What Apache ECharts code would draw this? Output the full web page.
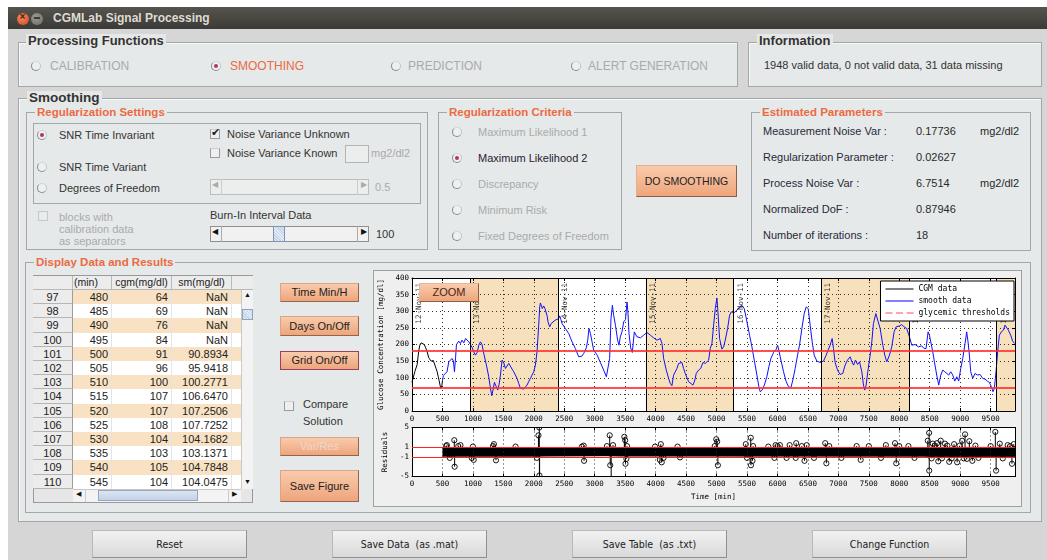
<!DOCTYPE html>
<html>
<head>
<meta charset="utf-8">
<title>CGMLab Signal Processing</title>
<script src="https://cdn.jsdelivr.net/npm/echarts@6/dist/echarts.min.js"></script>
<style>
html,body{margin:0;padding:0;background:#fff;width:1047px;height:560px;overflow:hidden;
  font-family:"Liberation Sans",Arial,sans-serif;font-size:11px;color:#333}
.abs{position:absolute;box-sizing:border-box}
.txt{position:absolute;white-space:nowrap;line-height:14px;height:14px}
.panel{position:absolute;box-sizing:border-box;border:1px solid #a3a7a7;
  box-shadow:inset 1px 1px 0 #f7f9f9;background:#e5e9e9}
.ptitle{position:absolute;font-weight:bold;white-space:nowrap;line-height:14px;padding:0 2px}
.orange{color:#ec6a42}
.grey{color:#a9abab}
.radio{position:absolute;width:10px;height:10px;border-radius:50%;box-sizing:border-box;
  border:1px solid #8a8a8a;border-top-color:#d4d4d4;border-right-color:#c4c4c4;background:#edf0f0}
.radio.on::after{content:"";position:absolute;left:2px;top:2px;width:4px;height:4px;border-radius:50%;background:#b2365c}
.check{position:absolute;width:10px;height:10px;box-sizing:border-box;border:1px solid #9b9b9b;
  border-top-color:#d0d0d0;background:#eef0f0}
.btn{position:absolute;box-sizing:border-box;border:1px solid #d8a686;border-right-color:#93654d;
  border-bottom-color:#93654d;background:linear-gradient(#f9cbac,#eea57c);text-align:center;color:#222;
  white-space:nowrap;font-size:11px}
.gbtn{position:absolute;box-sizing:border-box;border:1px solid #b9b9b9;border-right-color:#8f8f8f;
  border-bottom-color:#8f8f8f;background:linear-gradient(#f2f2f2,#d9d9d9);text-align:center;color:#222;
  white-space:nowrap;font-family:"DejaVu Sans Condensed","DejaVu Sans",sans-serif;font-size:10.5px;line-height:27px}
#fig{position:absolute;left:374px;top:271px;width:647px;height:235px}
</style>
</head>
<body>
<div id="ui"></div>
<script>
// ---- Table contents (Display Data and Results) ----
const tableIdx = [97, 98, 99, 100, 101, 102, 103, 104, 105, 106, 107, 108, 109, 110];
const tableMin = [480, 485, 490, 495, 500, 505, 510, 515, 520, 525, 530, 535, 540, 545];
const tableCgm = [64, 69, 76, 84, 91, 96, 100, 107, 107, 108, 104, 103, 105, 104];
const tableSm  = [null, null, null, null, 90.8934, 95.9418, 100.2771, 106.6470, 107.2506,
                  107.7252, 104.1682, 103.1371, 104.7848, 104.0475];

// ---- CGM readings before the burn-in interval ends [min, mg/dl] ----
const cgmEarly = [[0,86],[14,90],[46,118],[85,140],[110,180],[128,198],[150,205],[175,206],
  [200,200],[221,192],[249,178],[275,160],[293,156],[315,150],[331,155],[350,152],[369,148],
  [395,128],[413,118],[430,104],[445,92],[460,78],[472,68]];

// ---- Smoothed profile after burn-in [min, mg/dl] ----
const smoothLate = [[575,118],[604,148],[631,153],[659,158],[680,150],[697,118],[715,160],
  [730,200],[768,210],[795,203],[820,213],[850,205],[880,218],[905,212],[932,208],[960,200],
  [990,190],[1014,178],[1042,168],[1070,176],[1097,198],[1124,208],[1150,200],[1178,173],
  [1222,138],[1260,103],[1288,68],[1310,46],[1330,63],[1353,86],[1380,80],[1408,63],[1430,80],
  [1452,108],[1479,153],[1505,146],[1534,128],[1560,133],[1589,143],[1615,140],[1643,126],
  [1670,118],[1698,113],[1725,98],[1752,83],[1780,68],[1810,65],[1835,66],[1860,72],[1889,78],
  [1915,88],[1944,98],[1970,108],[1999,118],[2026,138],[2053,178],[2080,258],[2097,313],
  [2108,325],[2119,323],[2140,308],[2162,316],[2184,308],[2206,303],[2220,285],[2233,268],
  [2261,253],[2285,263],[2316,268],[2350,273],[2380,270],[2409,278],[2425,286],[2445,275],
  [2464,263],[2518,248],[2573,233],[2628,208],[2682,188],[2737,163],[2760,160],[2790,165],
  [2819,173],[2863,190],[2885,213],[2906,248],[2930,233],[2956,208],[2983,183],[3040,168],
  [3092,146],[3147,123],[3191,103],[3215,108],[3245,158],[3267,278],[3290,318],[3311,288],
  [3340,258],[3376,213],[3398,198],[3420,223],[3448,238],[3475,268],[3505,275],[3530,328],
  [3545,298],[3563,233],[3590,190],[3617,176],[3650,238],[3694,223],[3750,220],[3803,228],
  [3858,236],[3913,228],[3968,220],[4022,213],[4077,218],[4104,203],[4131,158],[4175,123],
  [4213,98],[4240,83],[4267,76],[4295,108],[4322,103],[4350,128],[4377,143],[4405,138],
  [4432,146],[4459,128],[4486,113],[4514,108],[4541,88],[4570,83],[4613,78],[4640,90],
  [4667,113],[4705,123],[4740,128],[4777,146],[4800,150],[4815,143],[4845,138],[4870,153],
  [4897,188],[4924,203],[4952,258],[4979,308],[5006,340],[5023,298],[5050,218],[5088,186],
  [5116,193],[5143,213],[5181,248],[5214,288],[5242,298],[5290,296],[5334,303],[5378,313],
  [5416,318],[5455,308],[5499,268],[5542,228],[5581,193],[5619,153],[5663,108],[5695,73],
  [5717,58],[5750,63],[5785,78],[5826,103],[5859,133],[5892,158],[5936,176],[5980,186],
  [6002,198],[6023,183],[6045,163],[6100,118],[6144,88],[6182,73],[6220,70],[6253,93],
  [6291,128],[6330,168],[6362,198],[6401,248],[6439,293],[6472,313],[6505,308],[6537,258],
  [6570,208],[6603,168],[6647,150],[6701,146],[6756,150],[6800,168],[6838,186],[6865,198],
  [6898,218],[6920,188],[6947,146],[6986,123],[7030,110],[7073,113],[7111,138],[7150,153],
  [7194,163],[7221,148],[7250,138],[7281,153],[7315,140],[7347,148],[7385,118],[7412,78],
  [7434,63],[7456,78],[7483,118],[7522,168],[7549,208],[7576,263],[7615,293],[7647,288],
  [7686,248],[7730,198],[7762,168],[7795,148],[7839,168],[7877,193],[7915,238],[7948,253],
  [8003,256],[8041,260],[8079,253],[8123,248],[8167,223],[8205,198],[8260,200],[8315,193],
  [8369,196],[8407,188],[8440,188],[8473,238],[8495,228],[8517,233],[8550,178],[8577,148],
  [8615,108],[8648,78],[8681,108],[8714,123],[8747,118],[8779,123],[8812,108],[8845,118],
  [8878,108],[8911,90],[8944,103],[8976,90],[9009,128],[9042,158],[9080,203],[9107,238],
  [9129,208],[9151,168],[9173,118],[9206,98],[9244,113],[9282,108],[9326,110],[9370,98],
  [9408,96],[9446,90],[9479,86],[9512,73],[9539,58],[9561,68],[9588,118],[9616,178],
  [9643,228],[9676,238],[9709,243],[9736,258],[9763,260],[9791,243],[9829,228],[9862,210],
  [9895,203]];

// ---- Days, thresholds ----
const dayNames  = ['12-Nov-11','13-Nov-11','14-Nov-11','15-Nov-11','16-Nov-11','17-Nov-11','18-Nov-11','19-Nov-11'];
const dayStarts = [-480, 960, 2400, 3840, 5280, 6720, 8160, 9600];
const timeEnd = 9900;
const glycemicThresholds = [70, 180];

// ---- Residuals: dense core envelope and isolated stems ----
const residBandTimes = [500, 2000, 2200, 3200, 3400, 8400, 8500, 9900];
const residBandHi    = [0.9, 0.9, 0.85, 0.8, 0.85, 0.9, 0.95, 0.95];
const residBandLo    = [-0.9, -0.9, -0.85, -0.8, -0.85, -0.9, -0.95, -0.95];
const residStems = [[560,1.2],[573,1.4],[620,-1.2],[694,2.4],[700,-3.0],[760,1.2],[796,1.4],
  [980,-1.2],[1000,1.1],[1013,-1.6],[1330,1.2],[1345,1.6],[1379,-1.7],[1700,1.1],[2050,-1.2],
  [2076,3.4],[2090,5.0],[2092,-4.8],[2095,-6.5],[2790,1.1],[2818,1.3],[2825,-1.8],[3200,1.2],
  [3246,3.4],[3255,-2.7],[3270,-6.5],[3300,1.4],[3486,3.1],[3500,2.4],[3505,-2.4],[3520,-1.4],
  [3530,1.2],[3990,1.1],[4070,-1.6],[4085,1.6],[4100,-2.1],[4130,-1.2],[4360,1.1],[4400,-1.1],
  [4970,1.2],[4995,2.6],[5010,2.1],[5022,-2.7],[5480,1.6],[5500,-1.2],[5562,2.9],[5565,-2.7],
  [5590,-1.8],[5600,1.2],[5850,1.1],[5950,-1.2],[5970,1.4],[6000,1.2],[6040,1.4],[6150,-1.2],
  [6200,1.4],[6300,-1.2],[6308,1.8],[6400,1.2],[6444,-1.8],[6480,1.4],[6600,-1.2],[6784,1.8],
  [6803,-2.3],[6850,1.2],[7050,-1.2],[7300,1.2],[7366,-1.6],[7500,1.2],[7700,-1.2],[7780,1.4],
  [7930,1.8],[7950,-2.3],[8000,1.2],[8150,1.2],[8250,-1.2],[8468,2.3],[8490,3.9],[8492,-3.8],
  [8530,-1.3],[8550,1.7],[8580,1.3],[8620,1.8],[8640,-1.9],[8680,2.3],[8700,-1.3],[8750,1.7],
  [8790,1.3],[8820,-2.0],[8860,-1.3],[8900,1.6],[8950,-2.1],[8990,1.3],[9031,2.3],[9060,-1.3],
  [9080,3.6],[9110,-1.4],[9150,2.2],[9200,-1.8],[9250,1.3],[9300,-1.2],[9500,1.2],[9577,4.1],
  [9590,-3.8],[9650,1.7],[9700,-1.3],[9780,1.4],[9820,1.2],[9850,-2.4],[9880,1.6]];
const residLimits = [-1, 1];

// ---------------- GUI ----------------
const ui = document.getElementById('ui');
function add(cls, x, y, w, h, html, css) {
  const d = document.createElement('div');
  d.className = cls;
  d.style.left = x + 'px'; d.style.top = y + 'px';
  if (w != null) d.style.width = w + 'px';
  if (h != null) d.style.height = h + 'px';
  if (html != null) d.innerHTML = html;
  if (css) d.style.cssText += css;
  ui.appendChild(d);
  return d;
}
function text(x, cy, s, cls, css) { return add('txt ' + (cls || ''), x, cy - 7, null, null, s, css); }
function radio(cx, cy, on) { return add('radio' + (on ? ' on' : ''), cx - 5, cy - 5); }
function check(x, cy, on, css) {
  const c = add('check', x, cy - 5, null, null, null, css);
  if (on) c.innerHTML = '<span style="position:absolute;left:0;top:-4px;font-size:11px;color:#222">&#10004;</span>';
  return c;
}
function title(x, cy, s, cls, bg, size) {
  return add('ptitle ' + (cls || ''), x, cy - 7, null, null, s,
    'background:' + bg + ';font-size:' + (size || 11) + 'px');
}

// window frame and title bar
add('abs', 8, 7, 1039, 553, null, 'background:#d6d6d6');
add('abs', 8, 7, 1039, 22, null, 'background:linear-gradient(#55544f,#3b3a36)');
add('abs', 16.5, 12.5, 12, 12, '<span style="position:absolute;left:3px;top:-2px;font-size:10px;font-weight:bold;color:#3a2a20">&#215;</span>',
  'border-radius:50%;background:radial-gradient(circle at 40% 35%,#f58a5c,#d2461b)');
add('abs', 30.5, 12.5, 12, 12, '<span style="position:absolute;left:3px;top:4px;width:6px;height:2px;background:#3c3b37"></span>',
  'border-radius:50%;background:radial-gradient(circle at 40% 35%,#9a9994,#6d6c68)');
text(53, 18, 'CGMLab Signal Processing', '', 'color:#dfdbd2;font-weight:bold;font-size:12px');

// Processing Functions
add('panel', 18, 42, 720, 45);
title(26, 41, 'Processing Functions', '', '#e6e8e8', 13);
radio(35.5, 66, false); text(50, 66, 'CALIBRATION', 'grey', 'font-size:12px');
radio(215.5, 66, true); text(230, 66, 'SMOOTHING', 'orange', 'font-size:12px');
radio(395.5, 66, false); text(408, 66, 'PREDICTION', 'grey', 'font-size:12px');
radio(575.5, 66, false); text(588, 66, 'ALERT GENERATION', 'grey', 'font-size:12px');

// Information
add('panel', 748, 42, 294, 45);
title(757, 41, 'Information', '', '#e6e8e8', 13);
text(764, 65, '1948 valid data, 0 not valid data, 31 data missing', '', 'color:#333');

// Smoothing
add('panel', 18, 98, 1024, 424);
title(27, 98, 'Smoothing', '', '#e6e8e8', 13.5);

// Regularization Settings
add('panel', 26, 112, 402, 138, null, 'box-shadow:none');
title(35, 112, 'Regularization Settings', 'orange', '#e5e9e9', 11.5);
add('panel', 33, 123, 388, 81, null, 'box-shadow:none');
radio(41.5, 135, true);  text(59, 135, 'SNR Time Invariant');
radio(41.5, 167, false); text(59, 167, 'SNR Time Variant');
radio(41.5, 188, false); text(59, 188, 'Degrees of Freedom');
check(210, 134, true);   text(227, 134, 'Noise Variance Unknown');
check(210, 153, false);  text(227, 153, 'Noise Variance Known');
add('abs', 345, 145, 24, 18, null, 'background:#eceeee;border:1px solid #b5b5b5');
text(371, 153, 'mg2/dl2', 'grey');
// disabled slider
add('abs', 210, 179, 159, 16, null, 'background:#eceeee;border:1px solid #bdbdbd');
add('abs', 210, 179, 12, 16, '<span style="position:absolute;left:2px;top:1px;font-size:8px;color:#aaa">&#9664;</span>', 'border-right:1px solid #ccc');
add('abs', 357, 179, 12, 16, '<span style="position:absolute;left:3px;top:1px;font-size:8px;color:#aaa">&#9654;</span>', 'border-left:1px solid #ccc');
text(375, 187, '0.5', 'grey');
check(38, 216, false, 'border-color:#c8c8c8;background:#e8ecec');
text(59, 217, 'blocks with', 'grey');
text(59, 229, 'calibration data', 'grey');
text(59, 241, 'as separators', 'grey');
text(210, 215, 'Burn-In Interval Data');
// burn-in slider
add('abs', 210, 226, 159, 16, null, 'background:#f1f1f1;border:1px solid #8f8f8f');
add('abs', 210, 226, 12, 16, '<span style="position:absolute;left:2px;top:1px;font-size:8px;color:#111">&#9664;</span>', 'border-right:1px solid #aaa');
add('abs', 357, 226, 12, 16, '<span style="position:absolute;left:3px;top:1px;font-size:8px;color:#111">&#9654;</span>', 'border-left:1px solid #aaa');
add('abs', 273, 226, 12, 16, null, 'background:repeating-linear-gradient(45deg,#c5d3e6 0 1px,#e4ecf6 1px 2px);border:1px solid #7f95b5');
text(376, 234, '100');

// Regularization Criteria
add('panel', 438, 112, 184, 138, null, 'box-shadow:none');
title(447, 112, 'Regularization Criteria', 'orange', '#e5e9e9', 11.5);
const critNames = ['Maximum Likelihood 1', 'Maximum Likelihood 2', 'Discrepancy', 'Minimum Risk', 'Fixed Degrees of Freedom'];
const critY = [131.5, 158, 183.5, 209.5, 236];
critNames.forEach((n, i) => {
  radio(457, critY[i], i === 1);
  text(478, critY[i], n, i === 1 ? '' : 'grey', i === 1 ? 'color:#2a2030' : '');
});
add('btn', 636, 165, 101, 32, 'DO SMOOTHING', 'line-height:30px;font-size:10.5px;border-color:#e0b090 #8d5f45 #8d5f45 #e0b090');

// Estimated Parameters
add('panel', 751, 112, 280, 139, null, 'box-shadow:none');
title(760, 112, 'Estimated Parameters', 'orange', '#e5e9e9', 11.5);
const paramNames = ['Measurement Noise Var :', 'Regularization Parameter :', 'Process Noise Var :', 'Normalized DoF :', 'Number of iterations :'];
const paramValues = ['0.17736', '0.02627', '6.7514', '0.87946', '18'];
const paramUnits = ['mg2/dl2', '', 'mg2/dl2', '', ''];
const paramY = [130.5, 156.5, 182.5, 208.5, 235];
paramNames.forEach((n, i) => {
  text(763, paramY[i], n, '', 'color:#2a2a3a');
  text(916, paramY[i], paramValues[i], '', 'color:#2a2a2a');
  if (paramUnits[i]) text(980, paramY[i], paramUnits[i], '', 'color:#2a2a2a');
});

// Display Data and Results
add('panel', 25, 262, 1006, 251, null, 'box-shadow:none');
title(34, 262, 'Display Data and Results', 'orange', '#e5e9e9', 11.5);

// table
add('abs', 33, 275, 220, 228, null, 'background:#e6e6e6;border:1px solid #9a9a9a');
const colX = [33, 73, 112, 172, 232];
const headers = ['', '(min)', 'cgm(mg/dl)', 'sm(mg/dl)'];
for (let c = 0; c < 4; c++) {
  add('abs', colX[c], 276, colX[c + 1] - colX[c], 14, headers[c],
    'background:#ececec;border-right:1px solid #b8b8b8;border-bottom:1px solid #b8b8b8;line-height:13px;font-size:10.5px;color:#222;' +
    (c === 1 ? 'text-align:left;padding-left:1px' : 'text-align:center'));
}
add('abs', 232, 276, 21, 14, null, 'background:#ececec;border-bottom:1px solid #b8b8b8');
const rowH = 14.2;
tableIdx.forEach((idx, r) => {
  const y = 290 + r * rowH;
  const bg = r % 2 === 0 ? '#f9e2c3' : '#ffffff';
  add('abs', 33, y, 40, rowH, String(idx),
    'background:#ececec;border-right:1px solid #9d9d9d;border-bottom:1px solid #b5b5b5;text-align:center;line-height:14px;color:#222');
  add('abs', 73, y, 168, rowH, null, 'background:' + bg);
  const sm = tableSm[r] == null ? 'NaN' : tableSm[r].toFixed(4);
  const vals = [String(tableMin[r]), String(tableCgm[r]), sm];
  for (let c = 1; c < 4; c++) {
    add('abs', colX[c], y, colX[c + 1] - colX[c], rowH, vals[c - 1],
      'text-align:right;padding-right:3px;line-height:14px;color:#222;border-right:1px solid #e4e4e4');
  }
});
// vertical scrollbar
add('abs', 241, 290, 12, 199, null, 'background:#f3f3f3;border-left:1px solid #c8c8c8');
add('abs', 242, 291, 11, 11, '<span style="position:absolute;left:2px;top:0;font-size:7px;color:#111">&#9650;</span>');
add('abs', 242, 309, 11, 11, null, 'background:repeating-linear-gradient(45deg,#c5d3e6 0 1px,#e4ecf6 1px 2px);border:1px solid #8ea3c0');
add('abs', 242, 477, 11, 11, '<span style="position:absolute;left:2px;top:1px;font-size:7px;color:#111">&#9660;</span>');
// horizontal scrollbar
add('abs', 73, 489, 168, 13, null, 'background:#f3f3f3;border-top:1px solid #c8c8c8');
add('abs', 73, 489, 13, 13, '<span style="position:absolute;left:3px;top:1px;font-size:7px;color:#111">&#9664;</span>', 'border-right:1px solid #ccc');
add('abs', 98, 490, 100, 11, null, 'background:linear-gradient(#dbe5f2,#c4d2e6);border:1px solid #93a7c4');
add('abs', 228, 489, 13, 13, '<span style="position:absolute;left:3px;top:1px;font-size:7px;color:#111">&#9654;</span>', 'border-left:1px solid #ccc');

// side buttons
add('btn', 280, 283, 79, 19, 'Time Min/H', 'line-height:17px');
add('btn', 280, 316, 79, 20, 'Days On/Off', 'line-height:18px');
add('btn', 280, 351, 79, 19, 'Grid On/Off', 'line-height:17px;border:1px solid #9a3f62');
check(284, 406, false);
text(303, 404, 'Compare');
text(303, 421, 'Solution');
add('btn', 280, 437, 79, 19, 'Var/Res', 'line-height:17px;color:#efd9cc');
add('btn', 280, 470, 79, 32, 'Save Figure', 'line-height:30px');

// figure frame
add('abs', 373, 270, 649, 237, null, 'background:#efefef;border:1px solid #a0a0a0');

// bottom buttons
add('gbtn', 92, 530, 155, 28, 'Reset');
add('gbtn', 332, 530, 155, 28, 'Save Data&nbsp; (as .mat)');
add('gbtn', 572, 530, 155, 28, 'Save Table&nbsp; (as .txt)');
add('gbtn', 812, 530, 155, 28, 'Change Function');

// chart container + ZOOM button on top of it
const fig = document.createElement('div'); fig.id = 'fig'; ui.appendChild(fig);
add('btn', 419, 283, 60, 19, 'ZOOM', 'line-height:17px;font-size:11px;color:#4a2418;z-index:5;border-color:#e6b898 #8d5f45 #8d5f45 #e6b898');

// ---------------- Chart ----------------
const cgmData = cgmEarly.concat(
  tableMin.map((t, i) => [t, tableCgm[i]]).filter(p => p[0] <= 500));
const smoothData = tableMin.map((t, i) => [t, tableSm[i]]).filter(p => p[1] != null).concat(smoothLate);
const shadedDays = [];
for (let i = 1; i < dayStarts.length; i += 2) {
  shadedDays.push([dayStarts[i], Math.min(dayStarts[i] + 1440, timeEnd)]);
}
const dayLines = dayStarts.filter(t => t > 0);
const dayLabelData = dayNames.map((n, i) => [Math.max(dayStarts[i], 0), 400, n]);

const MONO = 'DejaVu Sans Mono';
const tickFont = { fontFamily: MONO, fontSize: 7.5, color: '#000' };
const fmt500 = v => (v % 500 === 0 && v < timeEnd) ? String(v) : '';

// legend glyphs: a thin solid stroke and a dashed stroke, 28 x 10 boxes
const ICON_SOLID = 'path://M0,0M28,10M0,4.5h28v1h-28z';
const ICON_DASHED = 'path://M0,0M28,10M0,4.5h7v1h-7zM10.5,4.5h7v1h-7zM21,4.5h7v1h-7z';

function timeAxis(gi, extra) {
  return Object.assign({
    type: 'value', gridIndex: gi, min: 0, max: timeEnd, interval: 500, z: 4,
    axisLine: { show: true, onZero: false, lineStyle: { color: '#000', width: 1 } },
    axisTick: { show: true, inside: true, length: 3, lineStyle: { color: '#000' } },
    axisLabel: Object.assign({ margin: 4, formatter: fmt500, showMaxLabel: false, hideOverlap: false }, tickFont),
    splitLine: { show: true, lineStyle: { color: '#303030', width: 1, type: [1, 3] } }
  }, extra || {});
}
function mirror(gi, pos, lim) {
  return Object.assign({
    type: 'value', gridIndex: gi, position: pos, z: 4,
    axisLine: { show: true, onZero: false, lineStyle: { color: '#000', width: 1 } },
    axisTick: { show: true, inside: true, length: 3, lineStyle: { color: '#000' } },
    axisLabel: { show: false }, splitLine: { show: false }
  }, lim);
}

const chart = echarts.init(fig, null, { renderer: 'canvas' });
chart.setOption({
  animation: false,
  backgroundColor: '#efefef',
  textStyle: { fontFamily: MONO },
  grid: [
    { left: 38, top: 7, width: 603, height: 133, show: true, backgroundColor: '#ffffff', borderWidth: 0,
      containLabel: false, outerBoundsMode: 'none' },
    { left: 38, top: 156.5, width: 603, height: 49, show: true, backgroundColor: '#ffffff', borderWidth: 0,
      containLabel: false, outerBoundsMode: 'none' }
  ],
  xAxis: [
    timeAxis(0),
    timeAxis(1, { name: 'Time [min]', nameLocation: 'middle', nameGap: 17,
      nameTextStyle: { fontFamily: MONO, fontSize: 7.5, color: '#000' } }),
    mirror(0, 'top', { min: 0, max: timeEnd, interval: 500 }),
    mirror(1, 'top', { min: 0, max: timeEnd, interval: 500 })
  ],
  yAxis: [
    { type: 'value', gridIndex: 0, min: 0, max: 400, interval: 50, z: 4,
      name: 'Glucose Concentration [mg/dl]', nameLocation: 'middle', nameGap: 19, nameRotate: 90,
      nameTextStyle: { fontFamily: MONO, fontSize: 7.5, color: '#000' },
      axisLine: { show: true, onZero: false, lineStyle: { color: '#000' } },
      axisTick: { show: true, inside: true, length: 3, lineStyle: { color: '#000' } },
      axisLabel: Object.assign({ margin: 3 }, tickFont),
      splitLine: { show: true, lineStyle: { color: '#303030', width: 1, type: [1, 3] } } },
    { type: 'value', gridIndex: 1, min: -5, max: 5, interval: 1, z: 4,
      name: 'Residuals', nameLocation: 'middle', nameGap: 19, nameRotate: 90,
      nameTextStyle: { fontFamily: MONO, fontSize: 7.5, color: '#000' },
      axisLine: { show: true, onZero: false, lineStyle: { color: '#000' } },
      axisTick: { show: true, inside: true, length: 3, customValues: [-5, -1, 1, 5], lineStyle: { color: '#000' } },
      axisLabel: Object.assign({ margin: 3, customValues: [-5, -1, 1, 5], showMinLabel: true, showMaxLabel: true }, tickFont),
      splitLine: { show: false } },
    mirror(0, 'right', { min: 0, max: 400, interval: 50 }),
    mirror(1, 'right', { min: -5, max: 5, interval: 1,
      axisTick: { show: true, inside: true, length: 3, customValues: [-5, -1, 1, 5], lineStyle: { color: '#000' } } })
  ],
  legend: {
    right: 7, top: 10, z: 20, orient: 'vertical', backgroundColor: '#ffffff', borderColor: '#000', borderWidth: 1,
    borderRadius: 0, padding: [3, 4, 3, 5], itemGap: 2, itemWidth: 28, itemHeight: 10, selectedMode: false,
    textStyle: { fontFamily: MONO, fontSize: 8, color: '#000' },
    data: [
      { name: 'CGM data', icon: ICON_SOLID },
      { name: 'smooth data', icon: ICON_SOLID },
      { name: 'glycemic thresholds', icon: ICON_DASHED }
    ]
  },
  series: [
    { name: 'days', type: 'line', xAxisIndex: 0, yAxisIndex: 0, data: [[0, 0]], symbol: 'none',
      lineStyle: { width: 0 }, silent: true, z: 1,
      markArea: { silent: true, itemStyle: { color: '#f7e1bd' },
        data: shadedDays.map(d => [{ xAxis: d[0] }, { xAxis: d[1] }]) },
      markLine: { silent: true, symbol: 'none', label: { show: false }, animation: false,
        lineStyle: { color: '#000', width: 1, type: 'solid' }, data: dayLines.map(t => ({ xAxis: t })) } },
    { name: 'CGM data', type: 'line', xAxisIndex: 0, yAxisIndex: 0, data: cgmData, symbol: 'none',
      lineStyle: { color: '#000', width: 1 }, itemStyle: { color: '#000' }, z: 3 },
    { name: 'smooth data', type: 'line', xAxisIndex: 0, yAxisIndex: 0, data: smoothData, symbol: 'none',
      lineStyle: { color: '#1010ff', width: 1 }, itemStyle: { color: '#0000ff' }, z: 3 },
    { name: 'glycemic thresholds', type: 'line', xAxisIndex: 0, yAxisIndex: 0, data: [[0, glycemicThresholds[0]]],
      symbol: 'none', itemStyle: { color: '#ff5050' }, lineStyle: { color: '#ff5050', width: 1 }, z: 3,
      markLine: { silent: true, symbol: 'none', label: { show: false },
        lineStyle: { color: '#ff3030', width: 2, type: 'solid', opacity: 0.85 },
        data: glycemicThresholds.map(v => ({ yAxis: v })) } },
    { name: 'day labels', type: 'scatter', xAxisIndex: 0, yAxisIndex: 0, data: dayLabelData, symbolSize: 0,
      silent: true, z: 5,
      label: { show: true, formatter: p => p.data[2], rotate: 90, position: [3, 5], align: 'right',
        verticalAlign: 'top', fontFamily: MONO, fontSize: 7.5, color: '#000' } },
    { name: 'resid hi', type: 'line', xAxisIndex: 1, yAxisIndex: 1,
      data: residBandTimes.map((t, i) => [t, residBandHi[i]]), symbol: 'none',
      lineStyle: { color: '#000', width: 0.5 }, areaStyle: { color: '#000', opacity: 1, origin: 0 }, z: 2 },
    { name: 'resid lo', type: 'line', xAxisIndex: 1, yAxisIndex: 1,
      data: residBandTimes.map((t, i) => [t, residBandLo[i]]), symbol: 'none',
      lineStyle: { color: '#000', width: 0.5 }, areaStyle: { color: '#000', opacity: 1, origin: 0 }, z: 2 },
    { name: 'resid stems', type: 'custom', xAxisIndex: 1, yAxisIndex: 1, data: residStems, clip: true, z: 3,
      renderItem: (params, api) => {
        const t = api.value(0), r = api.value(1);
        const p0 = api.coord([t, 0]), p1 = api.coord([t, r]);
        return { type: 'group', children: [
          { type: 'line', shape: { x1: p0[0], y1: p0[1], x2: p1[0], y2: p1[1] }, style: { stroke: '#000', lineWidth: 1 } },
          { type: 'circle', shape: { cx: p1[0], cy: p1[1], r: 2.6 }, style: { fill: 'rgba(0,0,0,0)', stroke: '#000', lineWidth: 0.9 } }
        ] };
      } },
    { name: 'resid limits', type: 'line', xAxisIndex: 1, yAxisIndex: 1, data: [[0, 0]], symbol: 'none',
      lineStyle: { width: 0 }, z: 4,
      markLine: { silent: true, symbol: 'none', label: { show: false },
        lineStyle: { color: '#ff2020', width: 1.2, type: 'solid' },
        data: residLimits.map(v => ({ yAxis: v })) } }
  ]
});
</script>
</body>
</html>
